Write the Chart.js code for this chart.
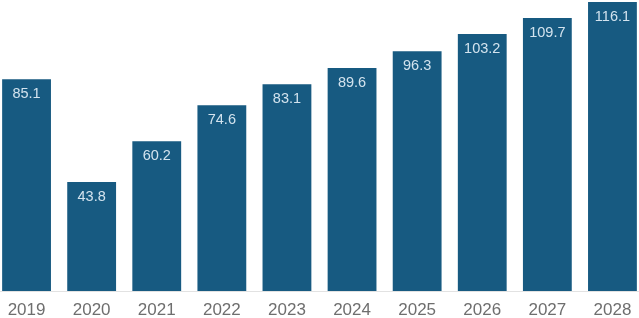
<!DOCTYPE html>
<html>
<head>
<meta charset="utf-8">
<script src="https://cdn.jsdelivr.net/npm/chart.js@4"></script>
<style>
  html, body { margin: 0; padding: 0; background: #ffffff; overflow: hidden; }
  #wrap { position: relative; width: 639px; height: 318px; overflow: hidden; }
  #c { position: absolute; left: -6px; top: 0; }
</style>
</head>
<body>
<div id="wrap"><canvas id="c" width="651" height="318"></canvas></div>
<script>
const categories = ["2019", "2020", "2021", "2022", "2023", "2024", "2025", "2026", "2027", "2028"];
const values = [85.1, 43.8, 60.2, 74.6, 83.1, 89.6, 96.3, 103.2, 109.7, 116.1];

const valueLabels = {
  id: 'valueLabels',
  afterDatasetsDraw(chart) {
    const ctx = chart.ctx;
    const meta = chart.getDatasetMeta(0);
    ctx.save();
    ctx.fillStyle = '#d3e3ee';
    ctx.font = '14.5px "Liberation Sans", Arial, sans-serif';
    ctx.textAlign = 'center';
    ctx.textBaseline = 'middle';
    meta.data.forEach((bar, i) => {
      ctx.fillText(values[i].toFixed(1), bar.x, bar.y + 15);
    });
    ctx.restore();
  }
};

new Chart(document.getElementById('c'), {
  type: 'bar',
  data: {
    labels: categories,
    datasets: [{
      data: values,
      backgroundColor: '#175a81',
      borderWidth: 0,
      barPercentage: 0.75,
      categoryPercentage: 1.0
    }]
  },
  options: {
    responsive: false,
    animation: false,
    devicePixelRatio: 1,
    layout: { padding: 0 },
    plugins: { legend: { display: false }, tooltip: { enabled: false } },
    scales: {
      x: {
        grid: { display: false },
        border: { display: true, color: '#e2e2e2', width: 1 },
        ticks: {
          color: '#6e6e6e',
          font: { family: '"Liberation Sans", Arial, sans-serif', size: 17 },
          padding: 1,
          maxRotation: 0
        },
        afterFit(scale) { scale.height = 27; }
      },
      y: {
        display: false,
        min: 0,
        max: 116.9
      }
    }
  },
  plugins: [valueLabels]
});
</script>
</body>
</html>
